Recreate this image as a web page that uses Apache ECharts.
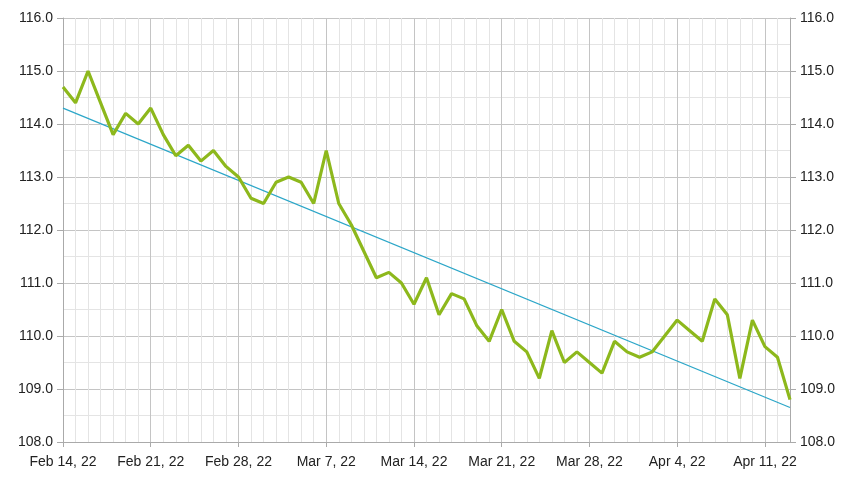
<!DOCTYPE html>
<html><head><meta charset="utf-8">
<script src="https://cdn.jsdelivr.net/npm/echarts@6/dist/echarts.min.js"></script>
<style>html,body{margin:0;padding:0;background:#fff}#c{width:853px;height:480px}</style>
</head><body><div id="c"></div>
<script>
const startDate = '2022-02-14';
const endDate = '2022-04-13';
const dates = ['2022-02-14','2022-02-15','2022-02-16','2022-02-17','2022-02-18','2022-02-19','2022-02-20','2022-02-21','2022-02-22','2022-02-23','2022-02-24','2022-02-25','2022-02-26','2022-02-27','2022-02-28','2022-03-01','2022-03-02','2022-03-03','2022-03-04','2022-03-05','2022-03-06','2022-03-07','2022-03-08','2022-03-09','2022-03-10','2022-03-11','2022-03-12','2022-03-13','2022-03-14','2022-03-15','2022-03-16','2022-03-17','2022-03-18','2022-03-19','2022-03-20','2022-03-21','2022-03-22','2022-03-23','2022-03-24','2022-03-25','2022-03-26','2022-03-27','2022-03-28','2022-03-29','2022-03-30','2022-03-31','2022-04-01','2022-04-02','2022-04-03','2022-04-04','2022-04-05','2022-04-06','2022-04-07','2022-04-08','2022-04-09','2022-04-10','2022-04-11','2022-04-12','2022-04-13'];
const values = [114.7,114.4,115.0,114.4,113.8,114.2,114.0,114.3,113.8,113.4,113.6,113.3,113.5,113.2,113.0,112.6,112.5,112.9,113.0,112.9,112.5,113.5,112.5,112.1,111.6,111.1,111.2,111.0,110.6,111.1,110.4,110.8,110.7,110.2,109.9,110.5,109.9,109.7,109.2,110.1,109.5,109.7,109.5,109.3,109.9,109.7,109.6,109.7,110.0,110.3,110.1,109.9,110.7,110.4,109.2,110.3,109.8,109.6,108.8];
const trendDates = ['2022-02-14','2022-04-13'];
const trendValues = [114.3,108.65];
const yTicks = [108,109,110,111,112,113,114,115,116];

const DAY = 86400000;
const t0 = Date.parse(startDate + 'T00:00:00Z');
const dayIdx = d => Math.round((Date.parse(d + 'T00:00:00Z') - t0) / DAY);
const months = ['Jan','Feb','Mar','Apr','May','Jun','Jul','Aug','Sep','Oct','Nov','Dec'];
const fmtDate = v => { const d = new Date(t0 + v * DAY); return months[d.getUTCMonth()] + ' ' + d.getUTCDate() + ', ' + String(d.getUTCFullYear()).slice(2); };

const font = 'Liberation Sans, Arial, sans-serif';
const yAxisBase = (pos) => ({
  type: 'value', position: pos, min: yTicks[0], max: yTicks[yTicks.length-1], interval: 1,
  axisLine: { show: true, lineStyle: { color: '#aaaaaa' } },
  axisTick: { show: true, length: 6, lineStyle: { color: '#aaaaaa' } },
  axisLabel: { color: '#222', fontSize: 14, fontFamily: font, margin: 10, formatter: v => v.toFixed(1) },
  splitLine: { show: pos === 'left', lineStyle: { color: '#c4c4c4', width: 1 } },
  minorTick: { show: false, splitNumber: 2 },
  minorSplitLine: { show: pos === 'left', lineStyle: { color: '#e4e4e4', width: 1 } }
});

const chart = echarts.init(document.getElementById('c'), null, { renderer: 'canvas' });
chart.setOption({
  animation: false,
  grid: { left: 63, right: 63, top: 18, bottom: 38, containLabel: false },
  xAxis: {
    type: 'value', min: 0, max: dayIdx(endDate), interval: 7,
    axisLine: { show: true, lineStyle: { color: '#aaaaaa' } },
    axisTick: { show: true, length: 5, lineStyle: { color: '#aaaaaa' } },
    axisLabel: { color: '#222', fontSize: 14, fontFamily: font, margin: 13, formatter: v => fmtDate(v), showMaxLabel: false },
    splitLine: { show: true, lineStyle: { color: '#c4c4c4', width: 1 } },
    minorTick: { show: false, splitNumber: 7 },
    minorSplitLine: { show: true, lineStyle: { color: '#e4e4e4', width: 1 } }
  },
  yAxis: [yAxisBase('left'), yAxisBase('right')],
  series: [
    { type: 'line', data: trendDates.map((d,i) => [dayIdx(d), trendValues[i]]), symbol: 'none', lineStyle: { color: '#2ba6c8', width: 1.2 }, z: 2 },
    { type: 'line', data: dates.map((d,i) => [dayIdx(d), values[i]]), symbol: 'none', lineStyle: { color: '#8db81c', width: 3.2 }, z: 3 }
  ]
});
</script></body></html>
